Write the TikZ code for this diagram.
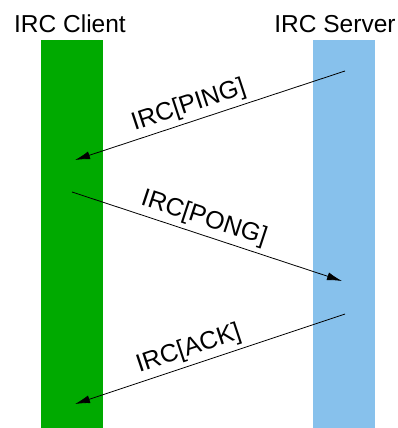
\documentclass[tikz,border=0pt]{standalone}
\usepackage{fontspec}
\setmainfont{Liberation Sans}
\usetikzlibrary{arrows.meta}
\definecolor{clientgreen}{RGB}{0,170,0}
\definecolor{serverblue}{RGB}{135,193,236}
\tikzset{
  lane/.style={rectangle, inner sep=0pt, minimum width=62pt, minimum height=388pt, anchor=north west},
  title/.style={font=\fontsize{24.5}{28}\selectfont, inner sep=0pt, anchor=base},
  msg/.style={-{Latex[length=15pt,width=8pt]}, line width=0.8pt, black},
  msglabel/.style={font=\fontsize{25}{29}\selectfont, sloped, above, inner sep=4pt}
}
\begin{document}
\begin{tikzpicture}[x=1pt,y=-1pt]
\useasboundingbox (0,0) rectangle (398,428);

\node[lane, fill=clientgreen] (client) at (41,40) {};
\node[lane, fill=serverblue] (server) at (313,40) {};
\node[title] (clienttitle) at (70,33) {IRC Client};
\node[title] (servertitle) at (335,33) {IRC Server};

% message end points
\coordinate (pingfrom) at (345,71);
\coordinate (pingto) at (75,160);
\coordinate (pongfrom) at (72,192);
\coordinate (pongto) at (342,281);
\coordinate (ackfrom) at (345,314);
\coordinate (ackto) at (75,404);

\draw[msg] (pingfrom) -- node[msglabel, pos=0.56] (pinglabel) {IRC[PING]} (pingto);
\draw[msg] (pongfrom) -- node[msglabel, pos=0.47] (ponglabel) {IRC[PONG]} (pongto);
\draw[msg] (ackfrom) -- node[msglabel, pos=0.56] (acklabel) {IRC[ACK]} (ackto);
\end{tikzpicture}
\end{document}
